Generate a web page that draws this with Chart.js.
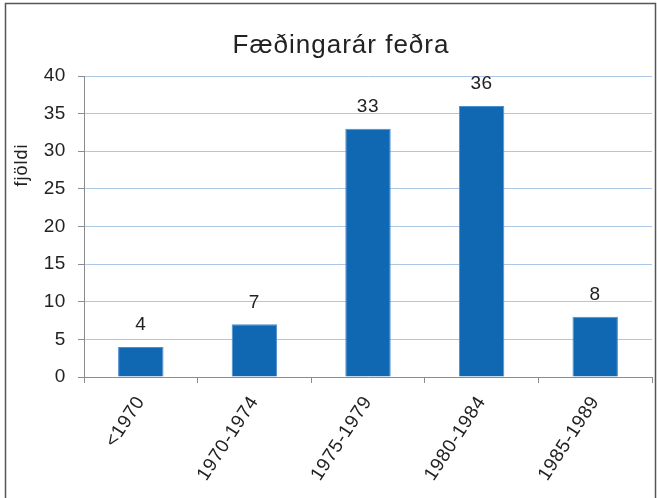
<!DOCTYPE html>
<html>
<head>
<meta charset="utf-8">
<script src="https://cdn.jsdelivr.net/npm/chart.js@4/dist/chart.umd.min.js"></script>
<style>
  html, body { margin: 0; padding: 0; background: #fff; }
  #wrap { width: 657px; height: 498px; position: relative; }
</style>
</head>
<body>
<div id="wrap"><canvas id="fedurChart" width="657" height="498"></canvas></div>
<script>
const categories = ['<1970', '1970-1974', '1975-1979', '1980-1984', '1985-1989'];
const counts = [4, 7, 33, 36, 8];
const yTicks = [0, 5, 10, 15, 20, 25, 30, 35, 40];
const chartTitle = 'Fæðingarár feðra';
const yTitle = 'fjöldi';

const FONT = '"Liberation Sans", Arial, sans-serif';

// frame, title, y-axis title and bar value labels
const decorations = {
    id: 'decorations',
    beforeLayout(chart) {
        chart.ctx.letterSpacing = '0.6px';
    },
    beforeDraw(chart) {
        const ctx = chart.ctx;
        ctx.letterSpacing = '0.6px';
        ctx.save();
        ctx.strokeStyle = '#555';
        ctx.lineWidth = 1.5;
        ctx.beginPath();
        ctx.moveTo(5.5, 498);
        ctx.lineTo(5.5, 3.5);
        ctx.lineTo(655.5, 3.5);
        ctx.lineTo(655.5, 498);
        ctx.stroke();
        ctx.restore();
    },
    afterDraw(chart) {
        const ctx = chart.ctx;
        ctx.save();
        ctx.fillStyle = '#222';
        ctx.textAlign = 'center';
        ctx.textBaseline = 'middle';
        ctx.letterSpacing = '1px';
        ctx.font = '26px ' + FONT;
        ctx.fillText(chartTitle, 341, 46);

        ctx.save();
        ctx.translate(22, 165);
        ctx.rotate(-Math.PI / 2);
        ctx.letterSpacing = '1px';
        ctx.font = '18px ' + FONT;
        ctx.fillText(yTitle, 0, 0);
        ctx.restore();

        ctx.letterSpacing = '0.6px';
        ctx.font = '19px ' + FONT;
        const meta = chart.getDatasetMeta(0);
        meta.data.forEach((bar, i) => {
            ctx.fillText(String(counts[i]), bar.x, bar.y - 22);
        });
        ctx.restore();
    }
};

new Chart(document.getElementById('fedurChart'), {
    type: 'bar',
    data: {
        labels: categories,
        datasets: [{
            data: counts,
            backgroundColor: '#1068b2',
            borderColor: '#4a8fd0',
            borderWidth: 1,
            barPercentage: 0.4,
            categoryPercentage: 1.0
        }]
    },
    options: {
        responsive: false,
        animation: false,
        layout: { padding: { left: 0, top: 76, right: 5, bottom: 0 } },
        plugins: {
            legend: { display: false },
            tooltip: { enabled: false }
        },
        scales: {
            x: {
                afterFit(scale) { scale.height = 121; },
                grid: {
                    display: true,
                    drawOnChartArea: false,
                    offset: true,
                    tickLength: 6,
                    tickColor: '#8c8c8c'
                },
                border: { color: '#8c8c8c', width: 1 },
                ticks: {
                    color: '#222',
                    font: { family: FONT, size: 19 },
                    maxRotation: 57,
                    minRotation: 57,
                    padding: 9
                }
            },
            y: {
                min: 0,
                max: 40,
                afterFit(scale) { scale.width = 84; },
                afterBuildTicks(scale) { scale.ticks = yTicks.map(v => ({ value: v })); },
                grid: {
                    color: '#abc8e6',
                    lineWidth: 1,
                    tickLength: 6,
                    tickColor: '#8c8c8c'
                },
                border: { color: '#8c8c8c', width: 1 },
                ticks: {
                    color: '#222',
                    font: { family: FONT, size: 19 },
                    padding: 12
                }
            }
        }
    },
    plugins: [decorations]
});
</script>
</body>
</html>
